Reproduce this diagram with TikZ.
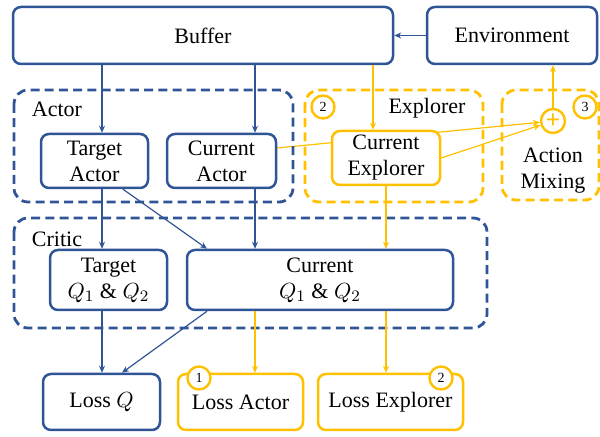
\documentclass[tikz,border=0pt]{standalone}
\usepackage{fontspec}
\setmainfont{Liberation Serif}
\usetikzlibrary{arrows.meta,backgrounds}
\definecolor{navy}{RGB}{47,85,151}
\definecolor{gold}{RGB}{255,192,0}
\tikzset{
    boxb/.style={draw=navy, line width=1.25pt, rounded corners=4pt, align=center, inner sep=0pt, fill=white},
    boxy/.style={boxb, draw=gold},
    grpb/.style={draw=navy, line width=1.4pt, dash pattern=on 4.5pt off 2.6pt, rounded corners=7pt},
    grpy/.style={grpb, draw=gold},
    arb/.style={draw=navy, line width=0.6pt, -{Stealth[length=3.5pt,width=3pt]}},
    ary/.style={arb, draw=gold},
    badge/.style={circle, draw=gold, line width=1.2pt, fill=white, inner sep=0pt, minimum size=11.5pt, font=\fontsize{7}{8}\selectfont}
}
\begin{document}
\begin{tikzpicture}[x=0.5pt, y=-0.5pt, font=\fontsize{11}{13}\selectfont]
    \useasboundingbox (0,0) rectangle (600,437);
    % groups
    \draw[grpb] (14,90) rectangle (293,202);
    \draw[grpy] (305,90) rectangle (483,202);
    \draw[grpy] (502,90) rectangle (599,200);
    \draw[grpb] (14,218) rectangle (487,328);
    \node (actorlbl) at (57,109) {Actor};
    \node (criticlbl) at (57,239) {Critic};
    \node (explorerlbl) at (427,108) {Explorer};
    \node[badge] (b2) at (323,107) {2};
    \node[badge] (b3) at (585,107) {3};
    \node[align=center] (mix) at (553,171) {Action\\Mixing};
    % boxes
    \node[boxb, minimum width=190pt, minimum height=28.5pt] (buffer) at (203,35.5) {Buffer};
    \node[boxb, minimum width=85pt, minimum height=28.5pt] (env) at (512,35.5) {Environment};
    \node[boxb, minimum width=53.5pt, minimum height=27pt] (tactor) at (94.5,161) {Target\\Actor};
    \node[boxb, minimum width=54.5pt, minimum height=27pt] (cactor) at (221.5,161) {Current\\Actor};
    \node[boxy, minimum width=54pt, minimum height=27pt] (cexpl) at (386,158) {Current\\Explorer};
    \node[boxb, minimum width=58.5pt, minimum height=30pt] (tq) at (108.5,280) {Target\\$Q_1$ \& $Q_2$};
    \node[boxb, minimum width=133pt, minimum height=30pt] (cq) at (320,280) {Current\\$Q_1$ \& $Q_2$};
    \node[boxb, minimum width=58.5pt, minimum height=28pt] (lq) at (101.5,402) {Loss $Q$};
    \node[boxy, minimum width=62.5pt, minimum height=28pt] (la) at (240.5,402) {Loss Actor};
    \node[boxy, minimum width=72.5pt, minimum height=28pt] (le) at (390.5,402) {Loss Explorer};
    \node[badge] (b1) at (199,378) {1};
    \node[badge] (b4) at (441,378) {2};
    \node[circle, draw=gold, line width=1.2pt, minimum size=12pt, inner sep=0pt, text=gold, font=\fontsize{13}{13}\bfseries] (plus) at (553,121) {+};
    % connectors
    \draw[arb] (env) -- (buffer);
    \draw[arb] (buffer.south -| 102,0) -- (tactor.north -| 102,0);
    \draw[arb] (buffer.south -| 255,0) -- (cactor.north -| 255,0);
    \draw[ary] (buffer.south -| 373,0) -- (cexpl.north -| 373,0);
    \draw[arb] (tactor.south -| 102,0) -- (tq.north -| 102,0);
    \draw[arb] (tactor.south -| 123,0) -- (cq.north -| 207,0);
    \draw[arb] (cactor.south -| 255,0) -- (cq.north -| 255,0);
    \draw[ary] (cexpl.south -| 386,0) -- (cq.north -| 386,0);
    \draw[arb] (tq.south -| 102,0) -- (lq.north -| 102,0);
    \draw[arb] (cq.south -| 207,0) -- (lq.north -| 122,0);
    \draw[ary] (cq.south -| 255,0) -- (la.north -| 255,0);
    \draw[ary] (cq.south -| 386,0) -- (le.north -| 386,0);
    \draw[ary] (plus) -- (env.south -| plus);
    \draw[ary] (cexpl.east) -- (plus);
    \begin{scope}[on background layer]
    \draw[ary] (cactor.east |- 0,148) -- (plus);
    \end{scope}
\end{tikzpicture}
\end{document}
